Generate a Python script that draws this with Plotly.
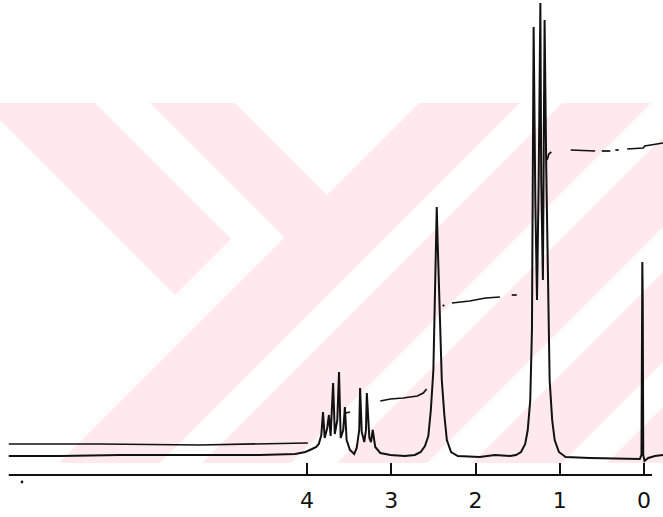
import plotly.graph_objects as go

# --- 1H NMR spectrum trace (chemical shift ppm, intensity above baseline) ---
spec_ppm = [7.54, 6.93, 6.22, 5.27, 4.56, 4.14, 4.02, 3.94, 3.89, 3.86, 3.83, 3.81, 3.79, 3.76,
            3.74, 3.72, 3.69, 3.67, 3.64, 3.62, 3.60, 3.57, 3.55, 3.53, 3.49, 3.44, 3.41, 3.38,
            3.37, 3.35, 3.32, 3.30, 3.29, 3.26, 3.24, 3.22, 3.19, 3.13, 3.01, 2.84, 2.72, 2.65,
            2.60, 2.56, 2.53, 2.50, 2.48, 2.47, 2.46, 2.45, 2.42, 2.40, 2.37, 2.34, 2.29, 2.21,
            1.95, 1.77, 1.59, 1.52, 1.46, 1.41, 1.38, 1.35, 1.33, 1.32, 1.31, 1.29, 1.27, 1.25,
            1.23, 1.22, 1.20, 1.19, 1.18, 1.16, 1.14, 1.12, 1.09, 1.06, 1.01, 0.93, 0.64, 0.28,
            0.05, 0.03, 0.024, 0.02, 0.015, 0.009, -0.006, -0.05, -0.13, -0.225]
spec_int = [1, 1, 2, 2, 2, 3, 5, 8, 10, 13, 22, 45, 19, 29,
            42, 21, 74, 23, 37, 85, 19, 27, 50, 17, 7, 3, 9, 27,
            69, 25, 15, 27, 64, 19, 15, 27, 10, 4, 2, 1, 2, 5,
            11, 21, 47, 87, 157, 217, 250, 217, 137, 77, 42, 17, 5, 1,
            0, 2, 1, 2, 5, 13, 27, 57, 127, 257, 430, 257, 157, 277,
            454, 277, 177, 307, 437, 287, 157, 77, 37, 17, 5, 0, -1, -2,
            -2, 2, 157, 195, 157, 2, -4, -1, 1, 2]

# --- integration curve (broken segments, None = gap) ---
integ_ppm = [7.54, 6.46, 5.27, 4.08, 3.99, None,
             3.54, 3.49, None,
             3.13, 3.01, 2.86, 2.69, 2.62, 2.58, None,
             2.39, 2.37, None,
             2.28, 2.07, 1.88, 1.71, None,
             1.57, 1.51, None,
             1.15, 1.13, 1.10, None,
             0.87, 0.58, None,
             0.50, 0.40, None,
             0.34, 0.30, None,
             0.20, 0.01, -0.01, -0.225]
integ_val = [13, 13, 12, 14, 14, None,
             44, 45, None,
             56, 58, 59, 61, 64, 68, None,
             151, 152, None,
             154, 156, 159, 160, None,
             162, 162, None,
             297, 303, 305, None,
             307, 306, None,
             306, 306, None,
             307, 307, None,
             308, 309, 311, 314]

tick_vals = [4, 3, 2, 1, 0]
tick_text = ["4", "3", "2", "1", "0"]

W, H = 663, 517
B = 42                      # bottom margin (axis line at y=475 px)
PH = H - B

def P(px, py):
    return px / W, (PH - py) / PH

def path(points):
    s = ""
    for i, (px, py) in enumerate(points):
        x, y = P(px, py)
        s += ("M" if i == 0 else "L") + f"{x:.4f},{y:.4f} "
    return s + "Z"

pink = "#fde9ee"
wm_polys = [
    [(0, 103), (95, 103), (231, 239), (175, 295), (0, 120)],
    [(150, 103), (235, 103), (327, 195), (419, 103), (520, 103), (160, 463), (59, 463), (284.5, 237.5)],
    [(562, 103), (651, 103), (291, 463), (202, 463)],
    [(663, 137), (663, 227), (427, 463), (337, 463)],
    [(663, 272), (663, 362), (562, 463), (472, 463)],
    [(663, 407), (663, 463), (607, 463)],
]
shapes = [dict(type="path", xref="paper", yref="paper", path=path(p),
               fillcolor=pink, line=dict(width=0), layer="below") for p in wm_polys]

# axis baseline line (ends short of the frame like the scan)
shapes.append(dict(type="line", xref="x", yref="paper", x0=7.54, x1=-0.095, y0=0, y1=0,
                   line=dict(color="#111", width=2), layer="above"))
# speck left of the axis
sx, sy = P(22, 482)
shapes.append(dict(type="circle", xref="paper", yref="paper",
                   x0=sx - 0.002, x1=sx + 0.002, y0=sy - 0.003, y1=sy + 0.003,
                   fillcolor="#111", line=dict(width=0)))

fig = go.Figure()
fig.add_trace(go.Scatter(x=integ_ppm, y=integ_val, mode="lines",
                         line=dict(color="#111", width=1.7), connectgaps=False,
                         hoverinfo="skip", showlegend=False))
fig.add_trace(go.Scatter(x=spec_ppm, y=spec_int, mode="lines",
                         line=dict(color="#111", width=2),
                         hoverinfo="skip", showlegend=False))

fig.update_layout(
    width=W, height=H,
    margin=dict(l=0, r=0, t=0, b=B, pad=0),
    paper_bgcolor="white", plot_bgcolor="rgba(0,0,0,0)",
    shapes=shapes,
    showlegend=False,
    xaxis=dict(range=[644 / 84.25, -19 / 84.25], tickvals=tick_vals, ticktext=tick_text,
               ticks="inside", ticklen=12, tickwidth=2, tickcolor="#111",
               showline=False, showgrid=False, zeroline=False,
               tickfont=dict(family="DejaVu Sans", size=22, color="#111"),
               ticklabelstandoff=10),
    yaxis=dict(range=[-18, 457], visible=False, showgrid=False, zeroline=False),
)

fig.write_html("out.html")
